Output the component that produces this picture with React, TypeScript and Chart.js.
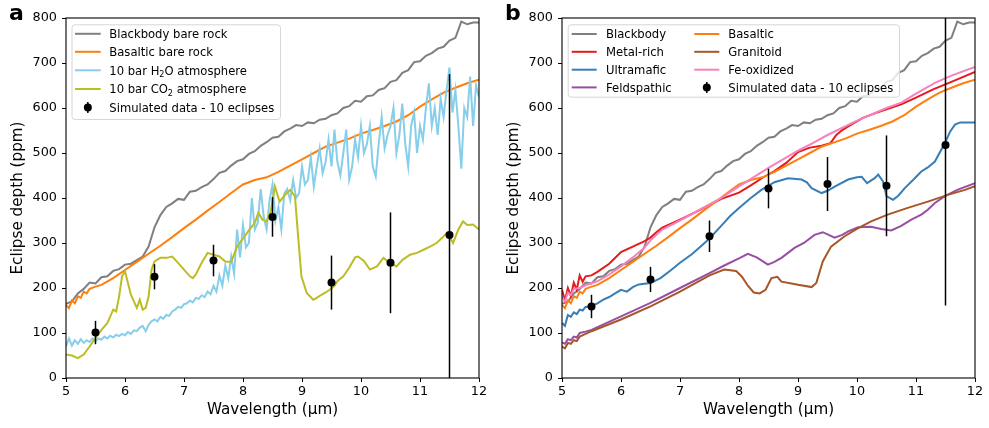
import React, { useEffect, useRef } from "react";
import { Chart, registerables } from "chart.js";

Chart.register(...registerables);

const FONT = '"DejaVu Sans", "Liberation Sans", sans-serif';

// ---------- Data ----------
const bbWl = [5.0, 5.1, 5.2, 5.3, 5.4, 5.5, 5.6, 5.7, 5.8, 5.9, 6.0, 6.1, 6.2, 6.3, 6.4, 6.5, 6.6, 6.7, 6.8, 6.9, 7.0, 7.1, 7.2, 7.3, 7.4, 7.5, 7.6, 7.7, 7.8, 7.9, 8.0, 8.1, 8.2, 8.3, 8.4, 8.5, 8.6, 8.7, 8.8, 8.9, 9.0, 9.1, 9.2, 9.3, 9.4, 9.5, 9.6, 9.7, 9.8, 9.9, 10.0, 10.1, 10.2, 10.3, 10.4, 10.5, 10.6, 10.7, 10.8, 10.9, 11.0, 11.1, 11.2, 11.3, 11.4, 11.5, 11.6, 11.7, 11.8, 11.9, 12.0];
const blackbody = [165, 170, 188, 198, 212, 210, 224, 226, 238, 242, 252, 254, 262, 270, 292, 335, 362, 380, 388, 398, 396, 414, 416, 424, 430, 442, 456, 460, 472, 482, 486, 498, 504, 516, 524, 534, 536, 548, 554, 562, 560, 568, 566, 574, 576, 584, 588, 600, 604, 616, 614, 626, 628, 640, 644, 658, 662, 678, 684, 702, 704, 716, 722, 732, 736, 750, 756, 792, 786, 790, 790];

const basWl = [5.0, 5.05, 5.1, 5.15, 5.2, 5.25, 5.3, 5.35, 5.4, 5.5, 5.6, 5.8, 6.0, 6.2, 6.4, 6.6, 6.8, 7.0, 7.2, 7.4, 7.6, 7.8, 8.0, 8.2, 8.4, 8.6, 8.8, 9.0, 9.2, 9.4, 9.6, 9.8, 10.0, 10.2, 10.4, 10.6, 10.8, 11.0, 11.2, 11.4, 11.6, 11.8, 12.0];
const basaltic = [162, 155, 172, 166, 182, 178, 192, 188, 198, 203, 207, 222, 240, 258, 276, 294, 313, 333, 352, 372, 391, 411, 430, 440, 446, 458, 472, 486, 500, 514, 523, 532, 543, 551, 560, 570, 584, 603, 619, 634, 645, 655, 663];

const h2oWl = [
  5.0, 5.05, 5.1, 5.15, 5.2, 5.25, 5.3, 5.35, 5.4, 5.45,
  5.5, 5.55, 5.6, 5.65, 5.7, 5.75, 5.8, 5.85, 5.9, 5.95,
  6.0, 6.05, 6.1, 6.15, 6.2, 6.25, 6.3, 6.35, 6.4, 6.45,
  6.5, 6.55, 6.6, 6.65, 6.7, 6.75, 6.8, 6.85, 6.9, 6.95,
  7.0, 7.05, 7.1, 7.15, 7.2, 7.25, 7.3, 7.35, 7.4, 7.45,
  7.5, 7.55, 7.6, 7.65, 7.7, 7.75, 7.8, 7.85, 7.9, 7.95,
  8.0, 8.05, 8.1, 8.15, 8.2, 8.25, 8.3, 8.35, 8.4, 8.45,
  8.5, 8.55, 8.6, 8.65, 8.7, 8.75, 8.8, 8.85, 8.9, 8.95,
  9.0, 9.05, 9.1, 9.15, 9.2, 9.25, 9.3, 9.35, 9.4, 9.45,
  9.5, 9.55, 9.6, 9.65, 9.7, 9.75, 9.8, 9.85, 9.9, 9.95,
  10.0, 10.05, 10.1, 10.15, 10.2, 10.25, 10.3, 10.35, 10.4, 10.45,
  10.5, 10.55, 10.6, 10.65, 10.7, 10.75, 10.8, 10.85, 10.9, 10.95,
  11.0, 11.05, 11.1, 11.15, 11.2, 11.25, 11.3, 11.35, 11.4, 11.45,
  11.5, 11.55, 11.6, 11.65, 11.7, 11.75, 11.8, 11.85, 11.9, 11.95,
  12.0,
];
const h2o = [
  70, 88, 72, 84, 76, 86, 78, 84, 80, 88,
  82, 88, 85, 92, 88, 94, 90, 96, 93, 98,
  95, 102, 98, 106, 104, 112, 116, 104, 118, 126,
  130, 126, 136, 132, 140, 138, 148, 152, 158, 156,
  164, 166, 172, 168, 178, 176, 184, 180, 192, 186,
  205, 192, 228, 205, 250, 222, 270, 232, 330, 268,
  340, 290, 300, 400, 330, 345, 420, 360, 330, 395,
  430, 350, 380, 330, 410, 420, 395, 440, 400, 410,
  470, 430, 440, 490, 425, 470, 510, 455, 480, 530,
  470, 552, 480, 450, 500, 552, 441, 470, 530, 490,
  560, 500, 520, 560, 470, 448, 520, 580, 510, 540,
  560, 600, 500, 540, 610, 520, 470, 560, 590, 500,
  560, 530, 600, 655, 560, 600, 540, 620, 580, 640,
  690, 590, 640, 560, 465, 600, 580, 670, 560, 650,
  625,
];

const co2Wl = [5.0, 5.1, 5.2, 5.3, 5.4, 5.5, 5.6, 5.7, 5.8, 5.85, 5.9, 5.95, 6.0, 6.05, 6.1, 6.2, 6.25, 6.3, 6.35, 6.4, 6.45, 6.5, 6.6, 6.7, 6.8, 6.9, 7.0, 7.1, 7.15, 7.2, 7.3, 7.4, 7.5, 7.6, 7.7, 7.8, 7.9, 8.0, 8.1, 8.2, 8.26, 8.33, 8.4, 8.47, 8.54, 8.62, 8.7, 8.8, 8.88, 8.93, 8.99, 9.08, 9.19, 9.25, 9.33, 9.4, 9.47, 9.55, 9.6, 9.7, 9.8, 9.9, 9.95, 10.05, 10.15, 10.27, 10.38, 10.49, 10.6, 10.7, 10.83, 10.95, 11.06, 11.17, 11.28, 11.38, 11.45, 11.5, 11.56, 11.65, 11.73, 11.8, 11.9, 12.0];
const co2 = [52, 50, 44, 52, 70, 89, 107, 122, 152, 148, 181, 226, 237, 211, 185, 156, 174, 152, 156, 181, 241, 259, 267, 267, 270, 256, 241, 226, 222, 230, 256, 278, 274, 270, 259, 258, 292, 310, 328, 345, 367, 352, 348, 370, 426, 392, 405, 418, 404, 322, 226, 189, 174, 178, 185, 190, 196, 205, 215, 226, 245, 268, 270, 260, 241, 248, 267, 256, 248, 262, 274, 278, 285, 292, 300, 312, 322, 315, 300, 330, 348, 340, 341, 330];

const redWl = [5.0, 5.05, 5.1, 5.15, 5.2, 5.25, 5.3, 5.35, 5.4, 5.5, 5.6, 5.8, 6.0, 6.2, 6.4, 6.5, 6.6, 6.7, 7.0, 7.35, 7.7, 8.0, 8.2, 8.4, 8.6, 8.8, 9.0, 9.2, 9.4, 9.55, 9.65, 9.75, 9.9, 10.1, 10.3, 10.5, 10.75, 11.0, 11.3, 11.6, 12.0];
const metalRich = [196, 172, 200, 182, 212, 196, 228, 214, 226, 228, 236, 254, 280, 292, 304, 312, 324, 334, 352, 374, 398, 412, 428, 445, 460, 478, 502, 512, 516, 522, 540, 551, 563, 578, 588, 597, 608, 623, 642, 658, 680];

const pinkWl = [5.0, 5.05, 5.1, 5.15, 5.2, 5.3, 5.4, 5.6, 5.8, 6.0, 6.2, 6.4, 6.5, 6.7, 7.0, 7.35, 7.7, 8.0, 8.5, 9.0, 9.25, 9.5, 10.0, 10.5, 10.75, 11.0, 11.32, 11.6, 12.0];
const feOxidized = [181, 170, 190, 184, 198, 200, 206, 215, 230, 248, 268, 290, 306, 330, 350, 375, 400, 426, 467, 505, 522, 540, 572, 600, 612, 632, 656, 672, 691];

const blueWl = [5.0, 5.05, 5.1, 5.15, 5.2, 5.25, 5.3, 5.35, 5.4, 5.5, 5.6, 5.7, 5.8, 5.9, 6.0, 6.1, 6.2, 6.3, 6.5, 6.67, 6.85, 7.0, 7.2, 7.35, 7.5, 7.69, 7.85, 8.0, 8.2, 8.38, 8.6, 8.83, 9.06, 9.15, 9.23, 9.4, 9.5, 9.63, 9.85, 10.0, 10.08, 10.17, 10.3, 10.36, 10.44, 10.5, 10.61, 10.7, 10.81, 10.95, 11.09, 11.2, 11.32, 11.49, 11.58, 11.66, 11.75, 11.83, 12.0];
const ultramafic = [122, 116, 140, 136, 146, 142, 152, 150, 158, 160, 166, 174, 180, 188, 196, 192, 202, 208, 211, 222, 240, 256, 275, 292, 310, 337, 360, 378, 400, 418, 435, 444, 441, 435, 422, 411, 416, 426, 441, 446, 447, 433, 444, 452, 437, 404, 396, 405, 422, 440, 459, 468, 481, 522, 548, 563, 568, 568, 568];

const purpWl = [5.0, 5.05, 5.1, 5.15, 5.2, 5.25, 5.3, 5.4, 5.5, 6.0, 6.5, 7.0, 7.5, 7.75, 8.0, 8.15, 8.3, 8.49, 8.6, 8.72, 8.94, 9.1, 9.28, 9.42, 9.52, 9.62, 9.75, 9.85, 10.02, 10.24, 10.41, 10.58, 10.75, 10.92, 11.09, 11.2, 11.32, 11.49, 11.7, 12.0];
const feldspathic = [79, 76, 86, 84, 92, 90, 100, 103, 107, 137, 167, 200, 233, 250, 266, 276, 268, 252, 258, 267, 289, 300, 318, 324, 318, 312, 318, 326, 335, 336, 331, 328, 338, 352, 363, 374, 389, 404, 418, 433];

const brownWl = [5.0, 5.05, 5.1, 5.15, 5.2, 5.25, 5.3, 5.4, 5.5, 6.0, 6.5, 7.0, 7.5, 7.75, 7.95, 8.05, 8.15, 8.25, 8.35, 8.45, 8.55, 8.65, 8.72, 9.0, 9.23, 9.31, 9.42, 9.56, 9.79, 10.02, 10.24, 10.52, 10.86, 11.2, 11.54, 11.83, 12.0];
const granitoid = [70, 66, 78, 76, 84, 82, 92, 98, 104, 130, 159, 192, 228, 241, 238, 225, 205, 190, 188, 196, 222, 225, 214, 207, 202, 211, 259, 292, 315, 333, 348, 363, 378, 392, 407, 418, 426];

const ptsWl = [5.5, 6.5, 7.5, 8.5, 9.5, 10.5, 11.5];
const ptsA = [101, 225, 261, 358, 212, 256, 318];
const ptsB = [159, 219, 315, 421, 431, 427, 518];
const ptsErr = [26, 28, 35, 44, 60, 112, 357];

const xTicks = [5, 6, 7, 8, 9, 10, 11, 12];
const yTicks = [0, 100, 200, 300, 400, 500, 600, 700, 800];

// ---------- Types ----------
type Seg = { t: string; sub?: boolean };
type Series = { label: Seg[]; color: string; wl: number[]; val: number[] };
type LegendItem = { kind: "line" | "err"; color?: string; segs: Seg[]; col: number; row: number };
type LegendSpec = {
  box: { x: number; y: number; w: number; h: number };
  rows: number[];
  cols: { lx0: number; lx1: number; tx: number }[];
  items: LegendItem[];
};

const C_GRAY = "#7f7f7f";
const C_ORANGE = "#ff7f0e";

const seriesA: Series[] = [
  { label: [{ t: "Blackbody bare rock" }], color: C_GRAY, wl: bbWl, val: blackbody },
  { label: [{ t: "Basaltic bare rock" }], color: C_ORANGE, wl: basWl, val: basaltic },
  { label: [{ t: "10 bar H" }, { t: "2", sub: true }, { t: "O atmosphere" }], color: "#87ceeb", wl: h2oWl, val: h2o },
  { label: [{ t: "10 bar CO" }, { t: "2", sub: true }, { t: " atmosphere" }], color: "#bcbd22", wl: co2Wl, val: co2 },
];

const seriesB: Series[] = [
  { label: [{ t: "Blackbody" }], color: C_GRAY, wl: bbWl, val: blackbody },
  { label: [{ t: "Metal-rich" }], color: "#e41a1c", wl: redWl, val: metalRich },
  { label: [{ t: "Ultramafic" }], color: "#377eb8", wl: blueWl, val: ultramafic },
  { label: [{ t: "Feldspathic" }], color: "#984ea3", wl: purpWl, val: feldspathic },
  { label: [{ t: "Basaltic" }], color: C_ORANGE, wl: basWl, val: basaltic },
  { label: [{ t: "Granitoid" }], color: "#a65628", wl: brownWl, val: granitoid },
  { label: [{ t: "Fe-oxidized" }], color: "#f781bf", wl: pinkWl, val: feOxidized },
];

const ERR_LABEL: Seg[] = [{ t: "Simulated data - 10 eclipses" }];

const legendA: LegendSpec = {
  box: { x: 71.5, y: 24.3, w: 208.5, h: 94.7 },
  rows: [33.8, 51.8, 70.3, 89.0, 107.6],
  cols: [{ lx0: 75, lx1: 100.7, tx: 109.3 }],
  items: [
    ...seriesA.map((s, i) => ({ kind: "line" as const, color: s.color, segs: s.label, col: 0, row: i })),
    { kind: "err", segs: ERR_LABEL, col: 0, row: 4 },
  ],
};

const legendB: LegendSpec = {
  box: { x: 71.7, y: 24.3, w: 331.3, h: 72.4 },
  rows: [34, 51.8, 69.7, 87.4],
  cols: [
    { lx0: 75.7, lx1: 100.7, tx: 110 },
    { lx0: 198.3, lx1: 223.3, tx: 232.3 },
  ],
  items: [
    ...seriesB.map((s, i) => ({ kind: "line" as const, color: s.color, segs: s.label, col: i < 4 ? 0 : 1, row: i < 4 ? i : i - 4 })),
    { kind: "err", segs: ERR_LABEL, col: 1, row: 3 },
  ],
};

// ---------- Drawing helpers ----------
function drawRich(ctx: CanvasRenderingContext2D, segs: Seg[], x: number, y: number, size: number) {
  let cx = x;
  for (const s of segs) {
    const fs = s.sub ? size * 0.7 : size;
    ctx.font = `${fs}px ${FONT}`;
    ctx.fillText(s.t, cx, s.sub ? y + size * 0.22 : y);
    cx += ctx.measureText(s.t).width;
  }
}

function drawLegend(ctx: CanvasRenderingContext2D, spec: LegendSpec) {
  const { box } = spec;
  ctx.save();
  ctx.beginPath();
  (ctx as any).roundRect(box.x + 0.5, box.y + 0.5, box.w, box.h, 3);
  ctx.fillStyle = "rgba(255,255,255,0.8)";
  ctx.fill();
  ctx.strokeStyle = "#d6d6d6";
  ctx.lineWidth = 1;
  ctx.stroke();
  ctx.fillStyle = "#000";
  ctx.textBaseline = "alphabetic";
  ctx.textAlign = "left";
  for (const it of spec.items) {
    const c = spec.cols[it.col];
    const ry = spec.rows[it.row];
    if (it.kind === "line") {
      ctx.beginPath();
      ctx.moveTo(c.lx0, ry);
      ctx.lineTo(c.lx1, ry);
      ctx.strokeStyle = it.color!;
      ctx.lineWidth = 2;
      ctx.stroke();
    } else {
      const mx = (c.lx0 + c.lx1) / 2;
      ctx.beginPath();
      ctx.moveTo(mx, ry - 5.5);
      ctx.lineTo(mx, ry + 5.5);
      ctx.strokeStyle = "#000";
      ctx.lineWidth = 1.5;
      ctx.stroke();
      ctx.beginPath();
      ctx.arc(mx, ry, 4, 0, Math.PI * 2);
      ctx.fillStyle = "#000";
      ctx.fill();
    }
    ctx.fillStyle = "#000";
    drawRich(ctx, it.segs, c.tx, ry + 4.3, 11.6);
  }
  ctx.restore();
}

function makeConfig(series: Series[], pts: number[], letter: string, legend: LegendSpec, padRight: number): any {
  const errIdx = series.length;
  const datasets: any[] = series.map((s, i) => ({
    type: "line",
    label: s.label.map((g) => g.t).join(""),
    data: s.wl.map((x, j) => ({ x, y: s.val[j] })),
    borderColor: s.color,
    backgroundColor: s.color,
    borderWidth: 2,
    pointRadius: 0,
    pointHoverRadius: 0,
    tension: 0,
    fill: false,
    order: series.length - i,
  }));
  datasets.push({
    type: "line",
    label: "Simulated data - 10 eclipses",
    data: ptsWl.map((x, j) => ({ x, y: pts[j] })),
    showLine: false,
    pointRadius: 4,
    pointHoverRadius: 4,
    pointBackgroundColor: "#000",
    pointBorderColor: "#000",
    pointBorderWidth: 0,
    order: 0,
  });

  const plugin = {
    id: "panelDecor" + letter,
    beforeDatasetDraw(chart: any, args: any) {
      if (args.index !== errIdx) return;
      const { ctx, chartArea, scales } = chart;
      ctx.save();
      ctx.beginPath();
      ctx.rect(chartArea.left, chartArea.top, chartArea.right - chartArea.left, chartArea.bottom - chartArea.top);
      ctx.clip();
      ctx.strokeStyle = "#000";
      ctx.lineWidth = 1.5;
      ptsWl.forEach((w, j) => {
        const px = scales.x.getPixelForValue(w);
        ctx.beginPath();
        ctx.moveTo(px, scales.y.getPixelForValue(pts[j] - ptsErr[j]));
        ctx.lineTo(px, scales.y.getPixelForValue(pts[j] + ptsErr[j]));
        ctx.stroke();
      });
      ctx.restore();
    },
    afterDraw(chart: any) {
      const { ctx, chartArea } = chart;
      ctx.save();
      ctx.strokeStyle = "#000";
      ctx.lineWidth = 1.1;
      ctx.strokeRect(chartArea.left, chartArea.top, chartArea.right - chartArea.left, chartArea.bottom - chartArea.top);
      ctx.restore();
      drawLegend(ctx, legend);
      ctx.save();
      ctx.fillStyle = "#000";
      ctx.font = `bold 22px ${FONT}`;
      ctx.textBaseline = "alphabetic";
      ctx.textAlign = "left";
      ctx.fillText(letter, 9, 20);
      ctx.restore();
    },
  };

  return {
    type: "line",
    data: { datasets },
    plugins: [plugin],
    options: {
      animation: false,
      responsive: false,
      devicePixelRatio: 1,
      events: [],
      layout: { padding: { left: 0, right: padRight, top: 18, bottom: 0 } },
      plugins: { legend: { display: false }, tooltip: { enabled: false } },
      scales: {
        x: {
          type: "linear",
          min: 5,
          max: 12,
          afterBuildTicks: (s: any) => {
            s.ticks = xTicks.map((v) => ({ value: v }));
          },
          ticks: { color: "#000", font: { family: FONT, size: 12.8 }, padding: 2, maxRotation: 0 },
          grid: { drawOnChartArea: false, drawTicks: true, tickLength: 4, tickColor: "#000", tickWidth: 1, color: "#000" },
          border: { display: false },
          title: {
            display: true,
            text: "Wavelength (μm)",
            color: "#000",
            font: { family: FONT, size: 15.2 },
            padding: { top: 0, bottom: 9 },
          },
          afterFit: (s: any) => {
            s.height = 50;
          },
        },
        y: {
          type: "linear",
          min: 0,
          max: 800,
          afterBuildTicks: (s: any) => {
            s.ticks = yTicks.map((v) => ({ value: v }));
          },
          ticks: { color: "#000", font: { family: FONT, size: 12.8 }, padding: 5 },
          grid: { drawOnChartArea: false, drawTicks: true, tickLength: 4, tickColor: "#000", tickWidth: 1, color: "#000" },
          border: { display: false },
          title: {
            display: true,
            text: "Eclipse depth (ppm)",
            color: "#000",
            font: { family: FONT, size: 15.2 },
            padding: { top: 9, bottom: 0 },
          },
          afterFit: (s: any) => {
            s.width = 66;
          },
        },
      },
    },
  };
}

function Panel(props: { left: number; width: number; series: Series[]; pts: number[]; letter: string; legend: LegendSpec; padRight: number }) {
  const ref = useRef<HTMLCanvasElement | null>(null);
  useEffect(() => {
    if (!ref.current) return;
    const chart = new Chart(ref.current, makeConfig(props.series, props.pts, props.letter, props.legend, props.padRight));
    return () => chart.destroy();
  }, []);
  return (
    <canvas
      ref={ref}
      width={props.width}
      height={428}
      style={{ position: "absolute", left: props.left, top: 0, width: props.width, height: 428, display: "block" }}
    />
  );
}

export default function App() {
  return (
    <div style={{ position: "absolute", left: 0, top: 0, width: 989, height: 428, background: "#fff", overflow: "hidden" }}>
      <Panel left={0} width={494} series={seriesA} pts={ptsA} letter="a" legend={legendA} padRight={15} />
      <Panel left={496} width={493} series={seriesB} pts={ptsB} letter="b" legend={legendB} padRight={14} />
    </div>
  );
}
